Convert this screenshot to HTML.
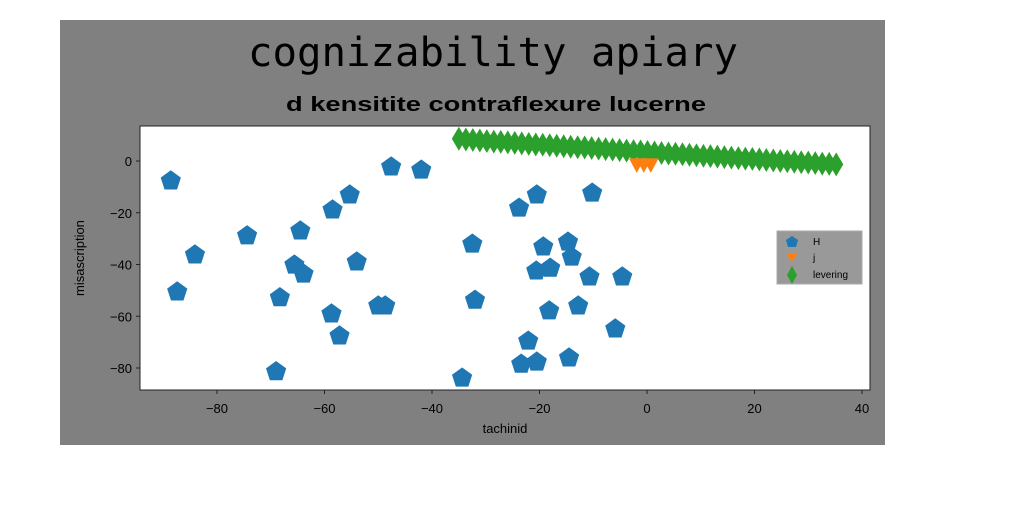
<!DOCTYPE html>
<html><head><meta charset="utf-8"><style>
body{margin:0;background:#fff;}
svg{display:block;}
text{font-family:"Liberation Sans","DejaVu Sans",sans-serif;}
</style></head><body>
<svg width="1024" height="512">
<rect x="60" y="20" width="825" height="425" fill="#808080"/>
<text x="493" y="66" text-anchor="middle" font-size="40" textLength="490" lengthAdjust="spacingAndGlyphs" style="font-family:'DejaVu Sans Mono','Liberation Mono',monospace">cognizability apiary</text>
<text x="496" y="111" text-anchor="middle" font-size="20" font-weight="bold" textLength="420" lengthAdjust="spacingAndGlyphs">d kensitite contraflexure lucerne</text>
<rect x="140" y="126" width="730" height="264" fill="#fff" stroke="#222" stroke-width="1"/>
<g id="marks"></g>
<g id="axes"></g>
<text x="505" y="433" text-anchor="middle" font-size="13">tachinid</text>
<text x="84" y="258" text-anchor="middle" font-size="13" transform="rotate(-90 84 258)">misascription</text>
<g>
<rect x="777" y="231" width="85" height="53" fill="#999" stroke="#aaa"/>
<polygon points="792,236 798,240 796,247 788,247 786,240" fill="#1f77b4"/>
<text x="813" y="245" font-size="10">H</text>
<polygon points="786,253 798,253 792,262" fill="#ff7f0e"/>
<text x="813" y="261" font-size="10">j</text>
<polygon points="792,266 797,275 792,284 787,275" fill="#2ca02c"/>
<text x="813" y="278" font-size="10">levering</text>
</g>
</svg>
<script>
const hX=[-88.6,-87.4,-84.1,-74.4,-69.0,-68.3,-64.5,-65.6,-63.9,-58.5,-57.2,-58.7,-55.3,-54.0,-50.0,-48.7,-47.6,-42.0,-32.5,-32.0,-34.4,-23.8,-20.5,-22.1,-23.4,-20.5,-19.3,-20.6,-18.0,-18.2,-14.7,-14.0,-14.5,-12.8,-10.7,-10.2,-4.6,-5.9];
const hY=[-7.7,-50.6,-36.3,-28.9,-81.4,-52.8,-27.0,-40.2,-43.7,-18.9,-67.6,-59.1,-13.1,-39.0,-56.0,-56.0,-2.3,-3.5,-32.1,-53.8,-83.9,-18.2,-13.1,-69.6,-78.5,-77.7,-33.2,-42.5,-41.4,-57.9,-31.3,-37.1,-76.1,-56.0,-44.8,-12.4,-44.8,-64.9];
const jX=[-1.9,-0.6,0.7];
const jY=[-1.5,-1.5,-1.5];
const lX=[-35.0,-33.7,-32.4,-31.1,-29.8,-28.5,-27.2,-25.9,-24.6,-23.3,-22.0,-20.7,-19.4,-18.1,-16.8,-15.5,-14.2,-12.9,-11.6,-10.3,-9.0,-7.7,-6.4,-5.1,-3.8,-2.5,-1.2,0.1,1.4,2.7,4.0,5.3,6.6,7.9,9.2,10.5,11.8,13.1,14.4,15.7,17.0,18.3,19.6,20.9,22.2,23.5,24.8,26.1,27.4,28.7,30.0,31.3,32.6,33.9,35.2];
const lY=[8.6,8.3,8.1,7.9,7.7,7.5,7.4,7.2,7.0,6.8,6.6,6.4,6.3,6.1,5.9,5.7,5.5,5.3,5.2,5.0,4.8,4.6,4.4,4.2,4.0,3.8,3.7,3.5,3.3,3.1,2.9,2.8,2.6,2.4,2.2,2.0,1.9,1.7,1.5,1.3,1.1,0.9,0.8,0.6,0.4,0.2,0.0,-0.1,-0.3,-0.5,-0.6,-0.8,-1.0,-1.1,-1.3];
const xTicks=[-80,-60,-40,-20,0,20,40];
const yTicks=[0,-20,-40,-60,-80];
const sx=v=>647+5.375*v, sy=v=>161-2.5875*v;
const NS='http://www.w3.org/2000/svg';
const marks=document.getElementById('marks'), axes=document.getElementById('axes');
function poly(pts,fill,name){const p=document.createElementNS(NS,'polygon');p.setAttribute('points',pts.map(a=>a.join(',')).join(' '));p.setAttribute('fill',fill);p.setAttribute('stroke',fill);p.setAttribute('stroke-width','1');


marks.appendChild(p);}
lX.forEach((x,i)=>{const cx=sx(x),cy=sy(lY[i]);poly([[cx,cy-11],[cx+6.5,cy],[cx,cy+11],[cx-6.5,cy]],'#2ca02c','levering-point');});
jX.forEach((x,i)=>{const cx=sx(x),cy=sy(jY[i]);poly([[cx-7,cy-6],[cx+7,cy-6],[cx,cy+7]],'#ff7f0e','j-point');});
hX.forEach((x,i)=>{const cx=sx(x),cy=sy(hY[i]);const pts=[];for(let k=0;k<5;k++){const a=-Math.PI/2+k*2*Math.PI/5;pts.push([cx+10*Math.cos(a),cy+10*Math.sin(a)]);}poly(pts,'#1f77b4','H-point');});
function el(tag,attrs,txt,name){const e=document.createElementNS(NS,tag);for(const k in attrs)e.setAttribute(k,attrs[k]);if(txt!==undefined)e.textContent=txt;


axes.appendChild(e);}
xTicks.forEach(t=>{const x=sx(t);el('line',{x1:x,x2:x,y1:390,y2:394,stroke:'#222'},undefined,'x-tick');el('text',{x:x,y:413,'text-anchor':'middle','font-size':13},t<0?'\u2212'+(-t):t,'x-tick-label');});
yTicks.forEach(t=>{const y=sy(t);el('line',{x1:136,x2:140,y1:y,y2:y,stroke:'#222'},undefined,'y-tick');el('text',{x:132,y:y+5,'text-anchor':'end','font-size':13},t<0?'\u2212'+(-t):t,'y-tick-label');});
</script>
</body></html>
